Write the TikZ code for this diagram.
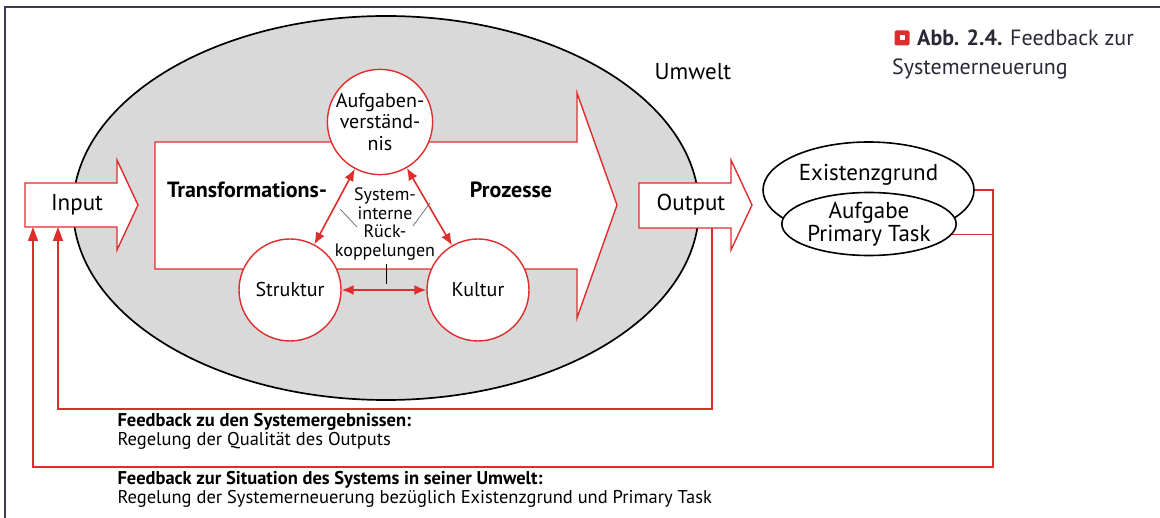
\documentclass[tikz,border=0pt]{standalone}
\usepackage{fontspec}
\setmainfont{PT Sans}
\usetikzlibrary{arrows.meta,shapes.geometric}

\definecolor{fbred}{RGB}{222,45,45}
\definecolor{sysgray}{RGB}{217,217,217}
\definecolor{framecol}{RGB}{60,60,80}
\definecolor{captioncol}{RGB}{40,40,55}

\tikzset{
  redline/.style={draw=fbred, line width=1.4pt},
  flowarrow/.style={redline, fill=white, line join=miter},
  subsys/.style={circle, draw=fbred, line width=1.4pt, fill=white,
    minimum size=102pt, inner sep=0pt, align=center,
    font=\fontsize{20}{21.5}\selectfont},
  mutual/.style={draw=fbred, line width=1.6pt,
    {Latex[length=12pt,width=10pt]}-{Latex[length=12pt,width=10pt]}},
  feedback/.style={redline, -{Triangle[length=14pt,width=10pt]}},
  pointer/.style={draw=black!60, line width=0.7pt},
  blackoval/.style={ellipse, draw=black, line width=1.6pt, fill=white, inner sep=0pt},
  flowlabel/.style={font=\fontsize{23}{24}\selectfont},
  boldlabel/.style={font=\fontsize{22}{24}\selectfont\bfseries},
  fbtext/.style={anchor=west, align=left, font=\fontsize{18.5}{19}\selectfont},
}

\begin{document}
\begin{tikzpicture}[x=1pt, y=-1pt]
\useasboundingbox (0,0) rectangle (1160,518);

% frame edges
\draw[framecol, line width=1.6pt] (5,518) -- (5,7) -- (1160,7);

% the system within its environment
\node[ellipse, draw=black, line width=1.7pt, fill=sysgray,
      minimum width=626pt, minimum height=384pt, inner sep=0pt] (system) at (386,208) {};

% input arrow
\draw[flowarrow] (25,183) -- (117,183) -- (117,160) -- (138,205) -- (117,250)
  -- (117,227) -- (25,227) -- cycle;
\node[flowlabel] (input) at (77,205) {Input};
\coordinate (inA) at (58,227);
\coordinate (inB) at (33,227);

% transformation arrow
\draw[flowarrow] (155,142) -- (577,142) -- (577,93) -- (617,205) -- (577,318)
  -- (577,269) -- (155,269) -- cycle;
\node[boldlabel] (trans) at (247,190) {Transformations-};
\node[boldlabel] (proz) at (511,190) {Prozesse};

% output arrow
\draw[flowarrow] (639,183) -- (731,183) -- (731,160) -- (752,205) -- (731,250)
  -- (731,228) -- (639,228) -- cycle;
\node[flowlabel] (output) at (691,205) {Output};
\coordinate (outfoot) at (712,228);

\node[flowlabel] (umwelt) at (693,72) {Umwelt};

% subsystems
\node[subsys, minimum size=100pt] (auf) at (380,122) {Aufgaben-\\verständ-\\nis};
\node[subsys] (struk) at (290,290) {Struktur};
\node[subsys] (kult) at (478,290) {Kultur};

\draw[mutual] (auf) -- (struk);
\draw[mutual] (auf) -- (kult);
\draw[mutual] (struk) -- (kult);

\node[align=center, font=\fontsize{18}{18.5}\selectfont] (intern) at (385,224)
  {System-\\interne\\Rück-\\koppelungen};
\coordinate (pl1) at (340,209); \coordinate (pl2) at (357,227);
\coordinate (pr1) at (430,203); \coordinate (pr2) at (413,226);
\coordinate (pv1) at (386,264); \coordinate (pv2) at (386,284);
\draw[pointer] (pl1) -- (pl2);
\draw[pointer] (pr1) -- (pr2);
\draw[pointer, draw=black] (pv1) -- (pv2);

% reason for existence and primary task
\node[blackoval, minimum width=211pt, minimum height=96pt] (exist) at (868.5,190) {};
\node[flowlabel, anchor=base] (existtext) at (868.5,181) {Existenzgrund};
\node[blackoval, minimum width=156pt, minimum height=63pt, align=center,
      font=\fontsize{23}{23}\selectfont] (task) at (869,224) {Aufgabe\\Primary Task};

% feedback loops
\coordinate (fbA) at (58,409);
\draw[feedback] (outfoot) |- (fbA) -- (inA);
\coordinate (fbB) at (993,467);
\coordinate (fbC) at (33,467);
\draw[feedback] (exist.east) -| (fbB) -- (fbC) -- (inB);
\draw[redline, draw=fbred] (task.-7) -- (task.-7 -| fbB);

\node[fbtext] (fb1) at (114,431.5)
  {{\bfseries Feedback zu den Systemergebnissen:}\\Regelung der Qualität des Outputs};
\node[fbtext] (fb2) at (114,489.5)
  {{\bfseries Feedback zur Situation des Systems in seiner Umwelt:}\\Regelung der Systemerneuerung bezüglich Existenzgrund und Primary Task};

% caption
\node[fill=fbred, rounded corners=2pt, minimum size=15pt, inner sep=0pt] (capicon) at (902,38) {};
\node[fill=white, minimum size=5pt, inner sep=0pt] (capdot) at (capicon) {};
\node[anchor=base west, text=captioncol, font=\fontsize{22}{24}\selectfont, inner sep=0pt]
  (cap1) at (917,46) {\textbf{Abb. 2.4.}\hspace{0.35em}Feedback zur};
\node[anchor=base west, text=captioncol, font=\fontsize{22}{24}\selectfont, inner sep=0pt]
  (cap2) at (892,75) {Systemerneuerung};
\end{tikzpicture}
\end{document}
